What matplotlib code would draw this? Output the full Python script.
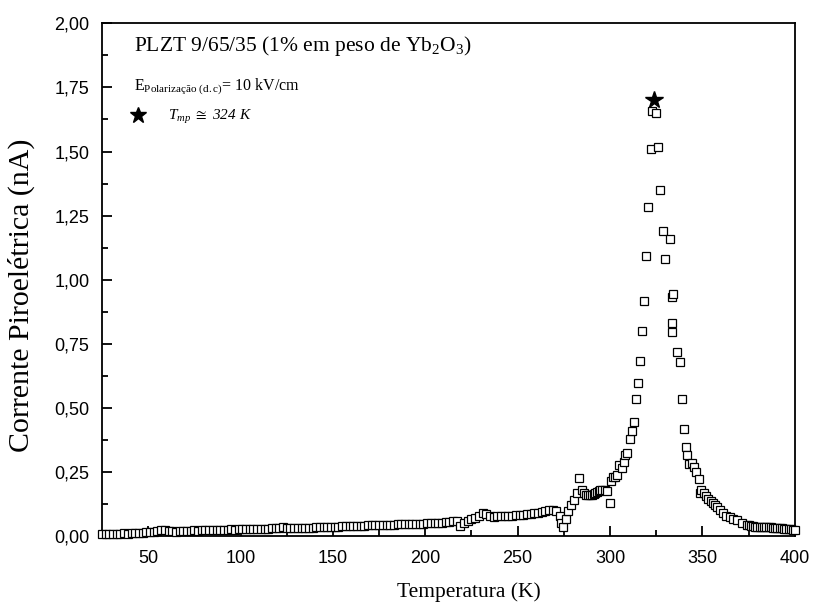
"""Corrente piroelétrica do PLZT 9/65/35 dopado com Yb2O3"""
import numpy as np
import matplotlib
matplotlib.use('Agg')
import matplotlib.pyplot as plt
from matplotlib.ticker import MultipleLocator, FuncFormatter

plt.rcParams['mathtext.fontset'] = 'custom'
plt.rcParams['mathtext.rm'] = 'Liberation Serif'
plt.rcParams['mathtext.it'] = 'Liberation Serif:italic'

# baseline readings (K, nA)
temp_low = [25, 27, 29, 31, 33, 35, 37, 39, 41, 43, 45, 47, 49, 51, 53, 55, 57, 59,
            61, 63, 65, 67, 69, 71, 73, 75, 77, 79, 81, 83, 85, 87, 89, 91, 93, 95,
            97, 99, 101, 103, 105, 107, 109, 111, 113, 115, 117, 119, 121, 123, 125,
            127, 129, 131, 133, 135, 137, 139, 141, 143, 145, 147, 149, 151, 153,
            155, 157, 159, 161, 163, 165, 167, 169, 171, 173, 175, 177, 179, 181,
            183, 185, 187, 189, 191, 193, 195, 197, 199, 201, 203, 205, 207, 209,
            211, 213, 215, 217, 219, 221, 223, 225, 227, 229, 231, 233, 235, 237,
            239, 241, 243, 245, 247, 249, 251, 253, 255, 257, 259, 261, 263, 265, 267]
curr_low = [0.009, 0.010, 0.010, 0.009, 0.011, 0.011, 0.012, 0.011, 0.013, 0.013,
            0.014, 0.014, 0.016, 0.017, 0.019, 0.021, 0.024, 0.025, 0.022, 0.020,
            0.019, 0.021, 0.020, 0.021, 0.022, 0.023, 0.022, 0.023, 0.024, 0.023,
            0.024, 0.025, 0.025, 0.026, 0.026, 0.027, 0.026, 0.028, 0.027, 0.028,
            0.028, 0.029, 0.028, 0.029, 0.030, 0.029, 0.031, 0.032, 0.034, 0.036,
            0.034, 0.032, 0.031, 0.032, 0.033, 0.033, 0.034, 0.034, 0.035, 0.036,
            0.036, 0.037, 0.037, 0.038, 0.037, 0.039, 0.039, 0.040, 0.041, 0.041,
            0.042, 0.042, 0.043, 0.043, 0.044, 0.045, 0.045, 0.046, 0.046, 0.046,
            0.047, 0.047, 0.048, 0.048, 0.049, 0.049, 0.050, 0.050, 0.051, 0.051,
            0.052, 0.053, 0.054, 0.055, 0.057, 0.059, 0.060, 0.041, 0.052, 0.058,
            0.066, 0.073, 0.081, 0.090, 0.086, 0.080, 0.077, 0.078, 0.078, 0.079,
            0.080, 0.081, 0.082, 0.083, 0.085, 0.087, 0.089, 0.091, 0.093, 0.096,
            0.098, 0.101]

# transition region
temp_mid = [269.2, 271.0, 272.8, 273.7, 274.6, 275.9, 277.3, 278.6, 280.4, 281.9,
            283.3, 284.6, 285.8, 286.9, 288.0, 289.1, 290.0, 291.2, 292.1, 293.0,
            293.8, 294.5, 295.9, 297.2]
curr_mid = [0.101, 0.097, 0.078, 0.054, 0.035, 0.067, 0.097, 0.121, 0.143, 0.169,
            0.227, 0.182, 0.168, 0.160, 0.160, 0.161, 0.162, 0.166, 0.169, 0.172,
            0.176, 0.179, 0.181, 0.179]

# peak
temp_peak = [298.4, 299.9, 300.6, 301.4, 302.6, 304.0, 304.9, 306.4, 307.3, 308.3,
             309.4, 310.9, 312.0, 313.0, 314.1, 315.2, 316.3, 317.4, 318.4, 319.5,
             320.8, 321.9, 322.8, 325.1, 326.2, 327.3, 328.6, 329.7, 332.5, 333.3,
             333.4, 333.8, 334.1, 336.3, 337.8, 339.0, 340.1, 340.9, 341.7, 342.8,
             344.3, 345.4, 346.6, 347.9, 348.6, 349.5, 350.8, 351.8, 353.1, 354.4,
             355.5, 356.7, 358.0, 359.4, 361.2, 363.0, 364.8, 366.6, 368.8, 371.2,
             373.9]
curr_peak = [0.175, 0.129, 0.214, 0.233, 0.233, 0.239, 0.279, 0.267, 0.288, 0.319,
             0.324, 0.380, 0.409, 0.445, 0.535, 0.597, 0.685, 0.802, 0.917, 1.091,
             1.285, 1.510, 1.658, 1.651, 1.516, 1.352, 1.191, 1.080, 1.158, 0.830,
             0.798, 0.933, 0.946, 0.717, 0.680, 0.537, 0.419, 0.348, 0.318, 0.283,
             0.285, 0.272, 0.251, 0.223, 0.168, 0.181, 0.171, 0.158, 0.145, 0.138,
             0.132, 0.123, 0.114, 0.104, 0.091, 0.080, 0.075, 0.067, 0.062, 0.052,
             0.045]

# high-temperature tail
temp_tail = [375.0, 376.2, 377.4, 378.6, 379.8, 381.0, 382.2, 383.4, 384.6, 385.8,
             387.0, 388.2, 389.4, 390.6, 391.8, 393.0, 394.2, 395.4, 396.6, 397.8,
             399.0, 400.0]
curr_tail = [0.043, 0.041, 0.039, 0.038, 0.037, 0.037, 0.036, 0.037, 0.036, 0.035,
             0.035, 0.034, 0.034, 0.033, 0.032, 0.031, 0.030, 0.029, 0.028, 0.027,
             0.026, 0.025]

t_mp = 324
i_mp = 1.70

temp = np.array(temp_low + temp_mid + temp_peak + temp_tail)
curr = np.array(curr_low + curr_mid + curr_peak + curr_tail)

fig = plt.figure(figsize=(8.16, 6.13), dpi=100)
ax = fig.add_axes([0.125, 0.125, 0.849, 0.837])

ax.plot(temp, curr, ls='none', marker='s', ms=5.2, mfc='white', mec='black', mew=0.9,
        clip_on=False, zorder=3)
ax.plot([t_mp], [i_mp], ls='none', marker='*', ms=13, color='black', zorder=4)

ax.set_xlim(25, 400)
ax.set_ylim(0, 2.0)
ax.xaxis.set_major_locator(MultipleLocator(50))
ax.xaxis.set_minor_locator(MultipleLocator(25))
ax.yaxis.set_major_locator(MultipleLocator(0.25))
ax.yaxis.set_minor_locator(MultipleLocator(0.125))
ax.yaxis.set_major_formatter(FuncFormatter(lambda v, p: ('%.2f' % v).replace('.', ',')))
ax.tick_params(which='both', direction='in', top=False, right=False, width=1.3)
ax.tick_params(which='major', length=7, labelsize=13, labelfontfamily='Liberation Sans')
ax.tick_params(axis='x', which='major', pad=10)
ax.tick_params(axis='y', which='major', pad=9)
ax.tick_params(which='minor', length=4)
for sp in ax.spines.values():
    sp.set_linewidth(1.3)

ax.set_xlabel('Temperatura (K)', family='Liberation Serif', fontsize=15.5)
ax.xaxis.set_label_coords(0.53, -0.09)
ax.set_ylabel('Corrente Piroelétrica (nA)', family='Liberation Serif', fontsize=21.5)
ax.yaxis.set_label_coords(-0.097, 0.47)

ax.text(0.046, 0.955, r'PLZT 9/65/35 (1% em peso de Yb$_2$O$_3$)', transform=ax.transAxes,
        family='Liberation Serif', fontsize=15.5, va='center')
ax.text(0.046, 0.875, r'E$_{\mathrm{Polarização\ (d.c)}}$= 10 kV/cm', transform=ax.transAxes,
        family='Liberation Serif', fontsize=11.5, va='center')
ax.plot([0.052], [0.822], transform=ax.transAxes, ls='none', marker='*', ms=12, color='black')
ax.text(0.095, 0.818, r'$T_{mp}$ $\cong$ 324 K', transform=ax.transAxes,
        family='Liberation Serif', style='italic', fontsize=11, va='center')

fig.savefig('out.png', dpi=100)
